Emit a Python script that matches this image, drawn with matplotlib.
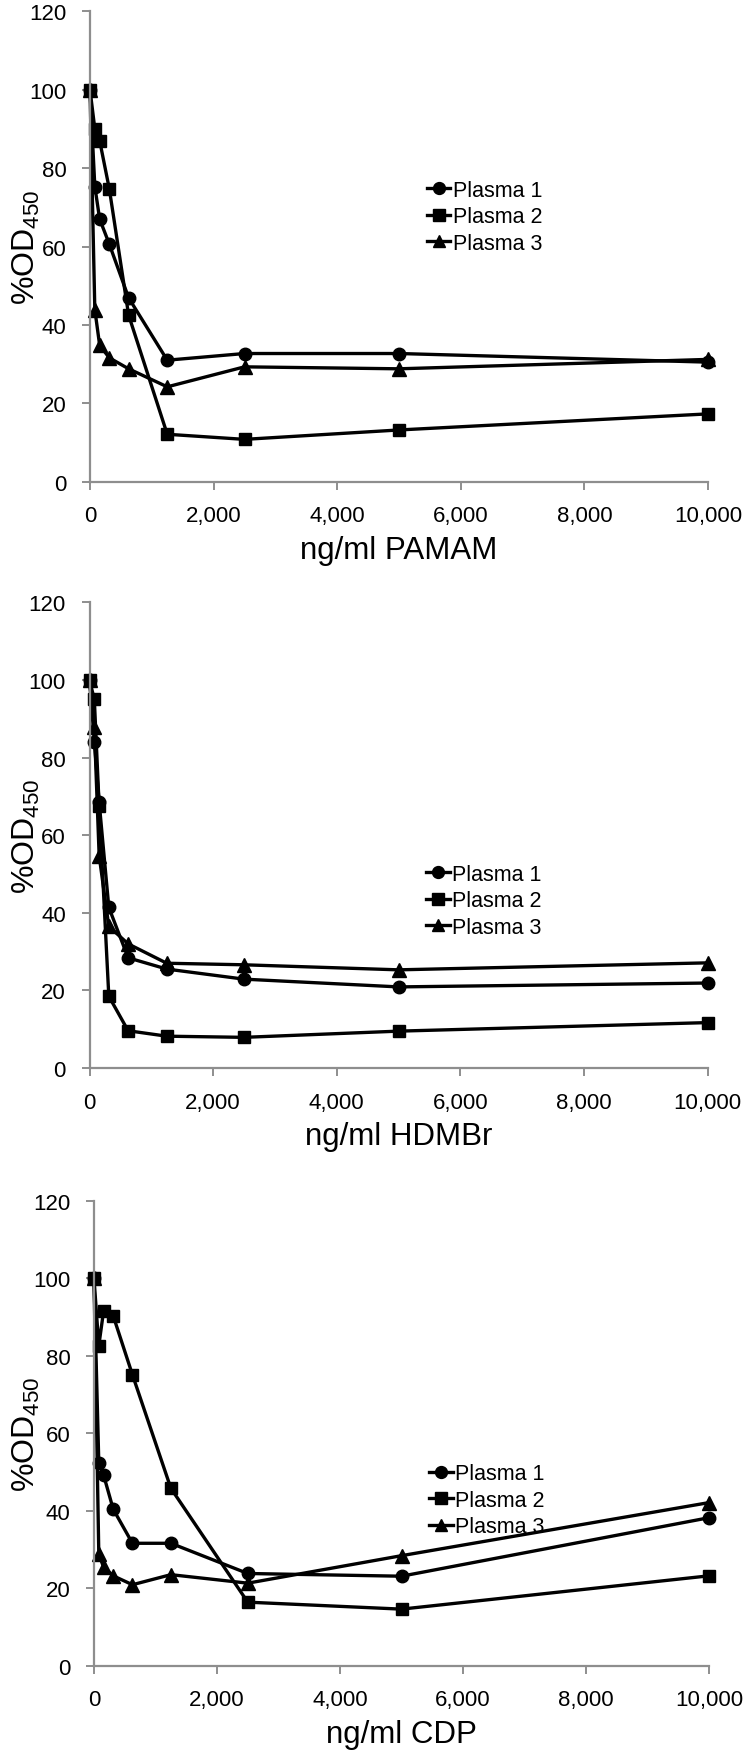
import matplotlib
matplotlib.use("Agg")
import matplotlib.pyplot as plt
from matplotlib.ticker import FuncFormatter

plt.rcParams['font.family'] = ['Liberation Sans', 'DejaVu Sans']
plt.rcParams['mathtext.default'] = 'regular'

# concentrations (ng/ml)
conc = [0, 78.125, 156.25, 312.5, 625, 1250, 2500, 5000, 10000]

pamam_p1 = [100, 75.3, 67.0, 60.6, 46.9, 31.0, 32.7, 32.7, 30.5]
pamam_p2 = [100, 90.0, 87.0, 74.7, 42.5, 12.1, 10.8, 13.2, 17.3]
pamam_p3 = [100, 43.9, 34.8, 31.6, 28.8, 24.2, 29.3, 28.8, 31.2]

hdmbr_p1 = [100, 84.1, 68.5, 41.4, 28.4, 25.5, 22.9, 20.9, 21.9]
hdmbr_p2 = [100, 95.0, 67.4, 18.5, 9.6, 8.2, 7.9, 9.5, 11.7]
hdmbr_p3 = [100, 88.0, 54.7, 36.5, 32.0, 27.0, 26.6, 25.3, 27.1]

cdp_p1 = [100, 52.3, 49.2, 40.4, 31.6, 31.6, 23.8, 23.1, 38.2]
cdp_p2 = [100, 82.6, 91.6, 90.3, 75.1, 45.8, 16.4, 14.6, 23.2]
cdp_p3 = [100, 28.8, 25.4, 23.2, 20.9, 23.5, 21.3, 28.4, 42.1]

series_labels = ['Plasma 1', 'Plasma 2', 'Plasma 3']
xlabels = ['ng/ml PAMAM', 'ng/ml HDMBr', 'ng/ml CDP']
panels = [
    (pamam_p1, pamam_p2, pamam_p3),
    (hdmbr_p1, hdmbr_p2, hdmbr_p3),
    (cdp_p1, cdp_p2, cdp_p3),
]

W, H = 753, 1758
fig = plt.figure(figsize=(W / 100, H / 100), dpi=100)
# axes boxes in pixels: left, bottom(y from top), right, top(y from top)
boxes_px = [
    (90, 482.7, 708, 12.3),
    (89.5, 1069, 707.5, 603.4),
    (94, 1666.7, 709, 1201.8),
]
legend_anchor = [(0.545, 0.563), (0.545, 0.359), (0.545, 0.356)]
markers = ['o', 's', '^']
msizes = [9, 9, 9.5]
gray = '#8e8e8e'

for box, data, xl, anc in zip(boxes_px, panels, xlabels, legend_anchor):
    l, b, r, t = box
    ax = fig.add_axes([l / W, 1 - b / H, (r - l) / W, (b - t) / H])
    for vals, m, ms, lab in zip(data, markers, msizes, series_labels):
        ax.plot(conc, vals, color='black', lw=2.4, marker=m, ms=ms,
                label=lab, clip_on=False)
    ax.set_xlim(0, 10000)
    ax.set_ylim(0, 120)
    ax.set_xticks(range(0, 10001, 2000))
    ax.set_yticks(range(0, 121, 20))
    ax.xaxis.set_major_formatter(FuncFormatter(lambda v, p: f"{int(v):,}"))
    for s in ['top', 'right']:
        ax.spines[s].set_visible(False)
    for s in ['left', 'bottom']:
        ax.spines[s].set_color(gray)
        ax.spines[s].set_linewidth(1.6)
    ax.tick_params(direction='out', length=6, width=1.4, color=gray,
                   labelsize=16, pad=11)
    ax.set_xlabel(xl, fontsize=22.5)
    ax.xaxis.set_label_coords(0.5, -53 / (b - t))
    ax.set_ylabel('%OD$_{450}$', fontsize=23)
    ax.yaxis.set_label_coords((42 - l) / (r - l), 0.5)
    ax.legend(loc='center left', bbox_to_anchor=anc, frameon=False,
              fontsize=15.5, handlelength=1.1, handletextpad=0.1,
              borderpad=0, borderaxespad=0, labelspacing=0.25,
              markerscale=0.95)

fig.savefig('out.png', dpi=100)
